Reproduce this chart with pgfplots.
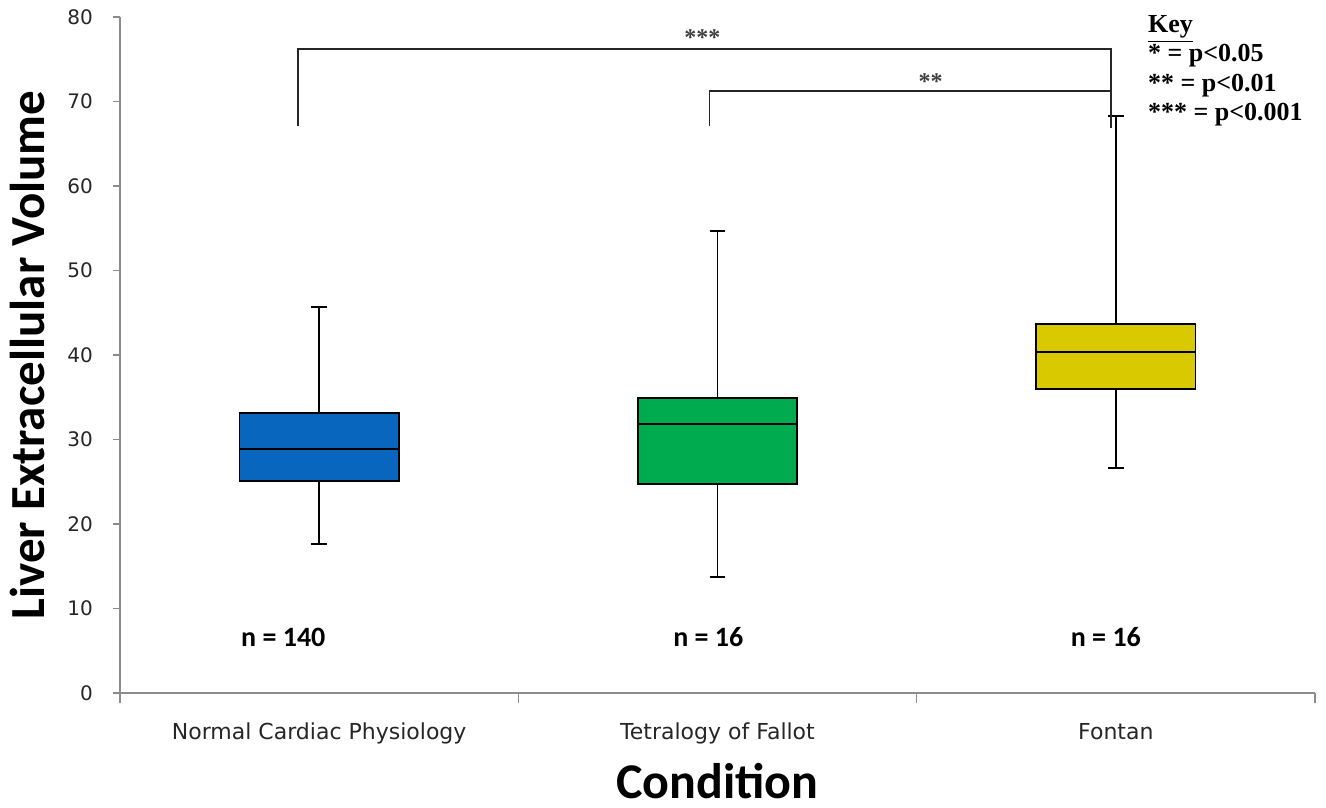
\documentclass[border=0pt]{standalone}
\usepackage{pgfplots}
\pgfplotsset{compat=1.18}
\usepgfplotslibrary{statistics}
\usepackage{fontspec}
\setmainfont{DejaVu Sans}
\newfontfamily\calibri{Carlito}
\newfontfamily\timesf{Liberation Serif}
\definecolor{cblue}{RGB}{8,102,190}
\definecolor{cgreen}{RGB}{0,170,78}
\definecolor{cyellow}{RGB}{217,201,0}
\definecolor{axgray}{RGB}{140,140,140}
\begin{document}
\begin{tikzpicture}
\begin{axis}[
  scale only axis, width=597.5pt, height=338pt,
  xmin=-0.5, xmax=2.5, ymin=0, ymax=80,
  axis x line*=bottom, axis y line*=left,
  axis line style={axgray, line width=0.8pt, -},
  boxplot/draw direction=y,
  ytick={0,10,...,80},
  xtick={0,1,2},
  xticklabels={Normal Cardiac Physiology, Tetralogy of Fallot, Fontan},
  minor xtick={-0.5,0.5,1.5,2.5},
  major x tick style={draw=none},
  minor x tick style={axgray, line width=0.8pt},
  y tick style={axgray, line width=0.8pt},
  tick align=outside,
  minor tick length=5pt,
  major tick length=3.5pt,
  /pgf/number format/assume math mode=true,
  yticklabel style={font=\fontsize{10}{12}\selectfont, text=black!85, xshift=-6.5pt},
  xticklabel style={font=\fontsize{11}{13}\selectfont, text=black!85, yshift=-8pt},
  clip=false,
]
\addplot[fill=cblue, draw=black, line width=0.9pt,
  boxplot prepared={draw position=0, lower whisker=17.6, lower quartile=25.1,
  median=28.9, upper quartile=33.1, upper whisker=45.7,
  box extend=0.40, whisker extend=0.04}, mark=none, mark options={opacity=0}] table[row sep=\\, y index=0] {28.9\\};
\addplot[fill=cgreen, draw=black, line width=0.9pt,
  boxplot prepared={draw position=1, lower whisker=13.7, lower quartile=24.7,
  median=31.8, upper quartile=34.9, upper whisker=54.7,
  box extend=0.40, whisker extend=0.04}, mark=none, mark options={opacity=0}] table[row sep=\\, y index=0] {31.8\\};
\addplot[fill=cyellow, draw=black, line width=0.9pt,
  boxplot prepared={draw position=2, lower whisker=26.6, lower quartile=36.0,
  median=40.4, upper quartile=43.7, upper whisker=68.3,
  box extend=0.40, whisker extend=0.04}, mark=none, mark options={opacity=0}] table[row sep=\\, y index=0] {40.4\\};

% significance brackets
\draw[line width=0.9pt, black!85] (axis cs:-0.053,67.1) -- (axis cs:-0.053,76.2) -- (axis cs:1.987,76.2) -- (axis cs:1.987,66.9);
\draw[line width=0.9pt, black!85] (axis cs:0.980,67.1) -- (axis cs:0.980,71.2) -- (axis cs:1.987,71.2);
\node[font=\timesf\bfseries\fontsize{12}{14}\selectfont, text=black!75] at (axis cs:0.962,77.6) {***};
\node[font=\timesf\bfseries\fontsize{12}{14}\selectfont, text=black!75] at (axis cs:1.535,72.4) {**};

% n labels
\node[font=\calibri\bfseries\fontsize{14}{16}\selectfont] at (axis cs:-0.09,6.6) {n = 140};
\node[font=\calibri\bfseries\fontsize{14}{16}\selectfont] at (axis cs:0.977,6.6) {n = 16};
\node[font=\calibri\bfseries\fontsize{14}{16}\selectfont] at (axis cs:1.975,6.6) {n = 16};

% key
\node[anchor=north west, align=left, inner sep=0pt,
  font=\timesf\bfseries\fontsize{13}{14.6}\selectfont] at (axis cs:2.08,80.2)
  {\underline{Key}\\{}* = p<0.05\\{}** = p<0.01\\{}*** = p<0.001};
\end{axis}
\node[rotate=90, font=\calibri\bfseries\fontsize{24.5}{28}\selectfont]
  at ([xshift=-46.5pt]current axis.west) {Liver Extracellular Volume};
\node[font=\calibri\bfseries\fontsize{25}{28}\selectfont]
  at ([yshift=-44pt]current axis.south) {Condition};
\pgfresetboundingbox
\path ([shift={(-60pt,-57.5pt)}]current axis.south west) rectangle ([shift={(5.5pt,8.5pt)}]current axis.north east);
\end{tikzpicture}
\end{document}
